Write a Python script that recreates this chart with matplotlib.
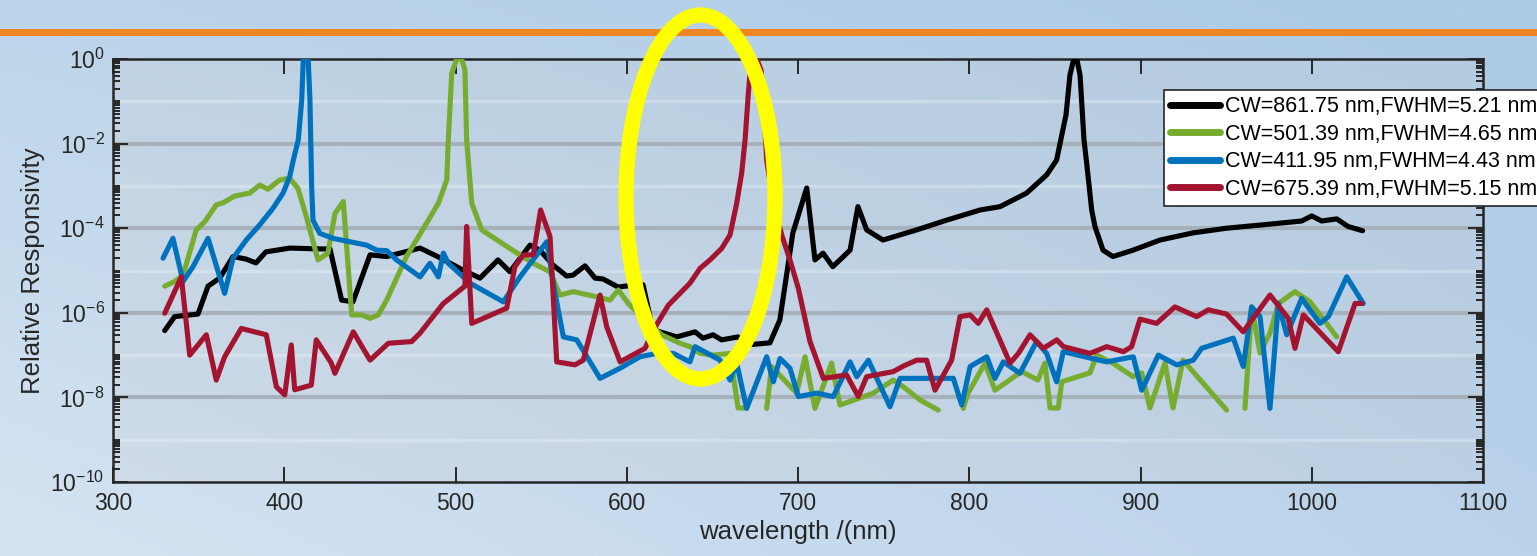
import numpy as np
import matplotlib.pyplot as plt
from matplotlib.patches import Ellipse
from matplotlib.lines import Line2D
from matplotlib.ticker import FixedLocator, LogLocator, FuncFormatter, NullFormatter

plt.rcParams['font.family'] = ['Liberation Sans', 'DejaVu Sans']
plt.rcParams['mathtext.default'] = 'regular'

labels = ['CW=861.75 nm,FWHM=5.21 nm', 'CW=501.39 nm,FWHM=4.65 nm',
          'CW=411.95 nm,FWHM=4.43 nm', 'CW=675.39 nm,FWHM=5.15 nm']
colors = ['#000000', '#77ac30', '#0072bd', '#a2142f']

# values, as wavelength (nm) and log10(responsivity)
wl_861 = [330.2, 336.0, 349.6, 355.5, 362.3, 370.1, 377.7, 383.5, 389.3, 403.2, 420.7, 426.7,
          433.5, 440.1, 450.1, 459.8, 479.3, 489.0, 504.4, 514.3, 524.8, 531.8, 543.5, 549.3,
          556.9, 564.9, 568.6, 575.6, 581.5, 586.1, 594.9, 599.0, 609.5, 615.3, 619.4, 629.2,
          639.9, 644.5, 650.4, 655.4, 665.0, 670.0, 683.6, 689.4, 697.0, 705.1, 709.9, 714.6,
          720.3, 730.4, 735.0, 740.1, 749.6, 769.3, 786.8, 806.3, 818.0, 833.5, 845.2, 851.0,
          856.5, 858.8, 860.6, 862.9, 864.7, 867.0, 868.7, 871.5, 873.4, 878.1, 883.9, 895.6,
          911.4, 930.7, 950.3, 971.5, 994.1, 1000.0, 1005.8, 1014.6, 1021.2, 1029.7]
lg_861 = [-6.42, -6.09, -6.03, -5.37, -5.18, -4.67, -4.73, -4.82, -4.56, -4.47, -4.49, -4.49,
          -5.70, -5.74, -4.63, -4.67, -4.47, -4.66, -4.99, -5.18, -4.75, -5.03, -4.40, -4.52,
          -4.87, -5.13, -5.11, -4.89, -5.18, -5.20, -5.39, -5.37, -5.34, -6.41, -6.45, -6.57,
          -6.45, -6.60, -6.52, -6.64, -6.57, -6.76, -6.71, -6.17, -4.11, -3.05, -4.75, -4.59,
          -4.91, -4.52, -3.49, -4.04, -4.28, -4.04, -3.81, -3.57, -3.49, -3.17, -2.74, -2.39,
          -1.32, -0.38, -0.07, -0.02, -0.38, -1.91, -2.51, -3.57, -3.96, -4.52, -4.67, -4.52,
          -4.28, -4.11, -4.00, -3.92, -3.83, -3.71, -3.83, -3.78, -3.96, -4.06]

wl_501 = [330.2, 336.0, 340.9, 348.6, 353.5, 360.3, 364.2, 371.1, 379.8, 385.7, 390.5, 397.3,
          403.2, 408.0, 412.9, 419.7, 425.5, 429.6, 434.5, 439.4, 445.2, 450.1, 454.9, 459.8,
          471.4, 483.1, 490.0, 494.9, 495.8, 497.8, 500.7, 503.6, 505.5, 506.5, 509.5, 515.3,
          531.8, 545.4, 555.2, 561.0, 568.8, 582.4, 590.2, 595.1, 600.9, 610.7, 620.4, 631.1,
          636.9, 642.8, 650.5, 660.3, 665.0, 669.0, 675.0, 681.7, 684.6, 699.2, 704.1, 709.9,
          719.6, 724.5, 744.0, 755.6, 761.5, 771.2, 781.9, 790.0, 796.5, 799.3, 809.2, 815.0,
          830.6, 840.1, 844.2, 847.2, 852.0, 854.0, 870.5, 874.4, 883.9, 895.6, 900.7, 905.5,
          914.3, 919.0, 924.8, 950.3, 955.0, 961.0, 964.9, 969.8, 975.6, 980.5, 990.2, 999.0,
          1014.6]
lg_501 = [-5.37, -5.26, -5.11, -4.04, -3.85, -3.45, -3.40, -3.24, -3.17, -2.98, -3.08, -2.86,
          -2.82, -3.06, -3.73, -4.75, -4.59, -3.65, -3.37, -6.05, -6.05, -6.13, -6.05, -5.70,
          -4.67, -3.88, -3.41, -2.86, -1.91, -0.34, 0.0, 0.0, -0.26, -1.91, -3.41, -4.04,
          -4.48, -4.83, -5.03, -5.58, -5.50, -5.62, -5.70, -5.46, -5.78, -6.17, -6.52, -6.72,
          -6.80, -6.96, -7.00, -6.96, -8.25, -8.25, np.nan, -8.26, -7.27, -7.90, -7.04, -8.26,
          -7.19, -8.18, -7.90, -7.59, -7.75, -8.06, -8.30, np.nan, -8.26, -7.90, -7.19, -7.83,
          -7.39, -7.59, -7.19, -8.25, -8.25, -7.63, -7.42, -7.00, -7.19, -7.51, -7.42, -8.25,
          -7.19, -8.25, -7.12, -8.30, np.nan, -8.26, -5.86, -6.95, -6.48, -5.78, -5.50, -5.74,
          -6.57]

wl_411 = [329.2, 335.0, 340.9, 346.7, 355.5, 365.2, 370.1, 377.8, 385.7, 393.4, 399.3, 403.2,
          405.3, 408.2, 410.2, 411.1, 414.0, 415.0, 416.0, 416.8, 420.7, 428.5, 448.1, 454.0,
          459.8, 465.6, 479.3, 485.1, 490.0, 492.9, 495.8, 508.5, 527.9, 537.7, 553.3, 558.1,
          563.0, 570.8, 584.4, 596.1, 607.7, 617.5, 627.2, 636.9, 639.9, 654.5, 660.3, 664.2,
          670.0, 681.7, 685.6, 689.5, 695.3, 700.2, 710.9, 720.6, 730.4, 734.3, 741.1, 753.7,
          759.6, 790.7, 795.6, 800.5, 810.2, 815.0, 819.9, 829.6, 839.3, 845.2, 851.0, 854.9,
          880.2, 895.8, 900.7, 910.4, 921.1, 930.8, 935.7, 954.2, 960.0, 964.9, 969.8, 975.6,
          980.5, 985.4, 994.1, 1004.8, 1009.7, 1020.4, 1030.1]
lg_411 = [-4.71, -4.24, -5.26, -4.91, -4.24, -5.54, -4.71, -4.28, -3.92, -3.53, -3.17, -2.78,
          -2.39, -1.91, -0.97, -0.02, -0.02, -0.97, -3.02, -3.81, -4.12, -4.24, -4.40, -4.52,
          -4.53, -4.75, -5.15, -4.83, -5.15, -4.59, -4.83, -5.30, -5.74, -5.15, -4.32, -5.53,
          -6.57, -6.64, -7.55, -7.31, -7.04, -6.96, -6.96, -7.16, -6.80, -7.12, -7.59, -7.19,
          -8.26, -7.04, -7.63, -7.08, -7.31, -7.98, -7.90, -7.98, -7.16, -7.51, -7.12, -8.22,
          -7.55, -7.55, -8.18, -7.27, -7.04, -7.55, -7.16, -7.43, -6.68, -6.96, -7.63, -6.92,
          -7.16, -7.04, -7.83, -7.00, -7.23, -7.12, -6.84, -6.60, -7.27, -5.86, -6.09, -8.26,
          -5.78, -6.52, -5.66, -6.25, -6.09, -5.15, -5.78]

wl_675 = [330.2, 339.9, 344.8, 354.5, 360.3, 365.2, 374.9, 389.5, 395.4, 400.3, 404.1, 406.1,
          415.8, 418.7, 427.5, 429.6, 440.3, 450.1, 460.8, 474.4, 479.3, 492.9, 505.5, 506.5,
          509.5, 529.9, 534.7, 539.6, 545.4, 549.7, 555.2, 559.1, 569.8, 574.6, 584.4, 588.3,
          596.1, 610.7, 615.5, 624.3, 630.1, 636.9, 642.8, 648.6, 655.4, 660.3, 664.2, 667.1,
          669.1, 671.0, 672.6, 676.1, 678.4, 679.7, 681.7, 685.6, 690.5, 695.3, 700.2, 707.0,
          714.8, 728.4, 735.2, 740.1, 755.6, 761.5, 769.3, 775.1, 780.0, 789.7, 794.6, 800.5,
          805.3, 810.2, 823.8, 828.7, 835.5, 843.3, 851.1, 855.0, 870.5, 880.3, 890.0, 894.8,
          899.7, 909.4, 920.1, 932.8, 939.6, 950.3, 960.0, 975.6, 986.3, 990.2, 995.1, 1015.5,
          1025.3, 1029.2]
lg_675 = [-6.01, -5.15, -7.00, -6.52, -7.59, -7.04, -6.37, -6.52, -7.75, -7.94, -6.76, -7.82,
          -7.71, -6.64, -7.19, -7.43, -6.45, -7.12, -6.72, -6.68, -6.48, -5.78, -5.37, -3.96,
          -6.25, -5.89, -4.91, -4.63, -4.63, -3.57, -4.20, -7.16, -7.23, -7.12, -5.58, -6.33,
          -7.16, -6.84, -6.41, -5.82, -5.58, -5.30, -4.95, -4.75, -4.48, -4.16, -3.41, -2.70,
          -1.91, -0.81, -0.07, -0.02, -0.26, -0.89, -2.39, -3.41, -4.16, -4.75, -5.42, -6.68,
          -7.55, -7.47, -7.98, -7.51, -7.39, -7.26, -7.12, -7.12, -7.83, -7.12, -6.09, -6.05,
          -6.25, -5.93, -7.19, -6.96, -6.52, -6.84, -6.64, -6.80, -6.96, -6.80, -6.92, -6.80,
          -6.15, -6.25, -5.86, -6.09, -5.93, -6.03, -6.45, -5.58, -6.13, -6.84, -6.05, -6.92,
          -5.78, -5.78]

W, H = 1537, 556
fig = plt.figure(figsize=(W / 100, H / 100), dpi=100)

# light blue gradient behind everything
bg = fig.add_axes([0, 0, 1, 1], zorder=-10)
yy, xx = np.mgrid[0:1:120j, 0:1:240j]
tl = np.array([188, 212, 234]) / 255
tr = np.array([172, 202, 230]) / 255
bl = np.array([214, 228, 242]) / 255
br = np.array([186, 210, 234]) / 255
img = (tl * ((1 - xx) * (1 - yy))[..., None] + tr * (xx * (1 - yy))[..., None]
       + bl * ((1 - xx) * yy)[..., None] + br * (xx * yy)[..., None])
bg.imshow(img, aspect='auto', extent=[0, 1, 0, 1], origin='upper', interpolation='bilinear')
bg.axis('off')

ax = fig.add_axes([113 / W, 1 - 482 / H, (1483 - 113) / W, (482 - 59) / H])
ax.set_facecolor((0.80, 0.80, 0.80, 0.22))
ax.set_yscale('log')
ax.set_xlim(300, 1100)
ax.set_ylim(1e-10, 1)

for e in range(-9, 0, 2):
    ax.axhline(10.0 ** e, color='white', lw=2.5, alpha=0.25, zorder=0.5)
for e in range(-8, 0, 2):
    ax.axhline(10.0 ** e, color='#a7b1bc', lw=3, zorder=0.6)

series = [(wl_861, lg_861), (wl_501, lg_501), (wl_411, lg_411), (wl_675, lg_675)]
for (wl, lg), c, lab in zip(series, colors, labels):
    ax.plot(wl, 10.0 ** np.array(lg), color=c, lw=3.7, label=lab,
            solid_joinstyle='round', solid_capstyle='round', zorder=3)

ax.set_xticks(np.arange(300, 1101, 100))
ax.yaxis.set_major_locator(FixedLocator(10.0 ** np.arange(-10, 1, 2)))
ax.yaxis.set_minor_locator(LogLocator(base=10, subs=np.arange(1, 10), numticks=30))
ax.yaxis.set_major_formatter(FuncFormatter(lambda v, p: r'$10^{%d}$' % round(np.log10(v))))
ax.yaxis.set_minor_formatter(NullFormatter())
ax.tick_params(which='both', direction='in', top=True, right=True, color='#262626',
               labelcolor='#262626', labelsize=16.5, width=1.4)
ax.tick_params(which='major', length=10.5)
ax.tick_params(which='minor', length=5)
ax.tick_params(axis='x', pad=7)
ax.tick_params(axis='y', pad=6)
for s in ax.spines.values():
    s.set_color('#262626')
    s.set_linewidth(1.8)

ax.set_xlabel('wavelength /(nm)', fontsize=18.5, color='#262626', labelpad=4)
ax.set_ylabel('Relative Responsivity', fontsize=18.5, color='#262626', labelpad=4)

leg = ax.legend(loc='upper left', bbox_to_anchor=(1164 / W, 1 - 90 / H),
                bbox_transform=fig.transFigure, fontsize=15.5, fancybox=False,
                framealpha=1, edgecolor='#262626', borderaxespad=0, borderpad=0.3,
                labelspacing=0.3, handlelength=2.3, handletextpad=0.25)
leg.get_frame().set_linewidth(1.2)
for h in leg.get_lines():
    h.set_linewidth(5)
leg.set_zorder(10)

# orange rule and yellow highlight
fig.add_artist(Line2D([0, 1535 / W], [1 - 32 / H, 1 - 32 / H], transform=fig.transFigure,
                      color='#ef8523', lw=5))
fig.add_artist(Ellipse((700.5 / W, 1 - 197 / H), 149 / W, 364 / H, transform=fig.transFigure,
                       fill=False, edgecolor='#ffff00', lw=11, zorder=20))

fig.savefig('out.png', dpi=100)
